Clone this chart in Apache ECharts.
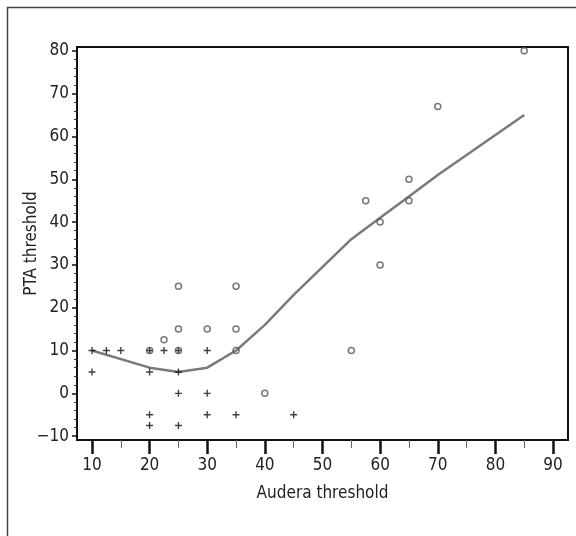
<!DOCTYPE html>
<html>
<head>
<meta charset="utf-8">
<script src="https://cdn.jsdelivr.net/npm/echarts@6/dist/echarts.min.js"></script>
<style>
  html, body { margin: 0; padding: 0; background: #fff; }
  #main { width: 576px; height: 536px; }
</style>
</head>
<body>
<div id="main"></div>
<script>
// 数据：十字点（第一组）和空心圆点（第二组），以及平滑趋势线
const crossPoints = [
    [10, 10], [10, 5], [12.5, 10], [15, 10],
    [20, 10], [20, 5], [20, -5], [20, -7.5],
    [22.5, 10], [25, 10], [25, 5], [25, 0], [25, -7.5],
    [30, 10], [30, 0], [30, -5], [35, -5], [45, -5]
];
const circlePoints = [
    [20, 10], [22.5, 12.5], [25, 10], [25, 15], [25, 25],
    [30, 15], [35, 10], [35, 15], [35, 25], [40, 0],
    [55, 10], [57.5, 45], [60, 30], [60, 40], [65, 45],
    [65, 50], [70, 67], [85, 80]
];
const trendLine = [
    [10, 10], [20, 6], [25, 5], [30, 6], [35, 10], [40, 16],
    [45, 23], [55, 36], [60, 41], [65, 46], [70, 51], [85, 65]
];
const xTicks = [10, 20, 30, 40, 50, 60, 70, 80, 90];
const xMinorTicks = [15, 25, 35, 45, 55, 65, 75, 85];
const yTicks = [-10, 0, 10, 20, 30, 40, 50, 60, 70, 80];
const yMinorTicks = [];
for (let i = 0; i < yTicks.length - 1; i++) {
    for (let k = 2; k < 10; k += 2) yMinorTicks.push(yTicks[i] + k);
}

const font = '"Liberation Sans Narrow", "DejaVu Sans Condensed", sans-serif';
const plusPath = 'path://M-1,-5L1,-5L1,-1L5,-1L5,1L1,1L1,5L-1,5L-1,1L-5,1L-5,-1L-1,-1Z';

let myChart = echarts.init(document.getElementById('main'));

const xRange = { min: 7.4, max: 92.6 };
const yRange = { min: -10.9, max: 80.9 };

option = {
    backgroundColor: '#fff',
    animation: false,
    graphic: [{
        type: 'rect',
        shape: { x: 7.5, y: 7.5, width: 700, height: 700 },
        style: { fill: 'none', stroke: '#444', lineWidth: 1.5 },
        silent: true
    }],
    grid: {
        left: 77, right: 8, top: 47, bottom: 96,
        show: true, borderColor: '#111', borderWidth: 2, backgroundColor: 'transparent'
    },
    xAxis: [{
        type: 'value',
        min: xRange.min, max: xRange.max,
        name: 'Audera threshold',
        nameLocation: 'middle',
        nameGap: 45,
        nameMoveOverlap: false,
        nameTextStyle: { fontFamily: font, fontSize: 17, color: '#222' },
        splitLine: { show: false },
        axisLine: { show: false, onZero: false },
        axisTick: { show: true, customValues: xTicks, length: 14, lineStyle: { color: '#111', width: 2.5 } },
        axisLabel: { customValues: xTicks, margin: 17, fontFamily: font, fontSize: 17, color: '#222' }
    }, {
        type: 'value',
        min: xRange.min, max: xRange.max,
        position: 'bottom',
        splitLine: { show: false },
        axisLine: { show: false, onZero: false },
        axisLabel: { show: false },
        axisTick: { show: true, customValues: xMinorTicks, length: 8, lineStyle: { color: '#666', width: 1 } }
    }],
    yAxis: [{
        type: 'value',
        min: yRange.min, max: yRange.max,
        name: 'PTA threshold',
        nameLocation: 'middle',
        nameGap: 37,
        nameMoveOverlap: false,
        nameTextStyle: { fontFamily: font, fontSize: 17, color: '#222' },
        splitLine: { show: false },
        axisLine: { show: false, onZero: false },
        axisTick: { show: true, customValues: yTicks, length: 5, lineStyle: { color: '#111', width: 1.5 } },
        axisLabel: { customValues: yTicks, margin: 8, fontFamily: font, fontSize: 17, color: '#222',
            formatter: v => (v < 0 ? '\u2212' + Math.abs(v) : String(v)) }
    }, {
        type: 'value',
        min: yRange.min, max: yRange.max,
        position: 'left',
        splitLine: { show: false },
        axisLine: { show: false, onZero: false },
        axisLabel: { show: false },
        axisTick: { show: true, customValues: yMinorTicks, length: 3, lineStyle: { color: '#333', width: 1 } }
    }],
    series: [
        {
            name: 'trend',
            type: 'line',
            data: trendLine,
            symbol: 'none',
            lineStyle: { color: '#7a7a7a', width: 2.5 },
            z: 2
        },
        {
            name: 'group1',
            type: 'scatter',
            data: crossPoints,
            symbol: plusPath,
            symbolSize: 7,
            itemStyle: { color: '#111' },
            z: 3
        },
        {
            name: 'group2',
            type: 'scatter',
            data: circlePoints,
            symbol: 'circle',
            symbolSize: 6,
            itemStyle: { color: 'rgba(255,255,255,0)', borderColor: '#555', borderWidth: 1.5 },
            z: 4
        }
    ]
};

myChart.setOption(option);
</script>
</body>
</html>
